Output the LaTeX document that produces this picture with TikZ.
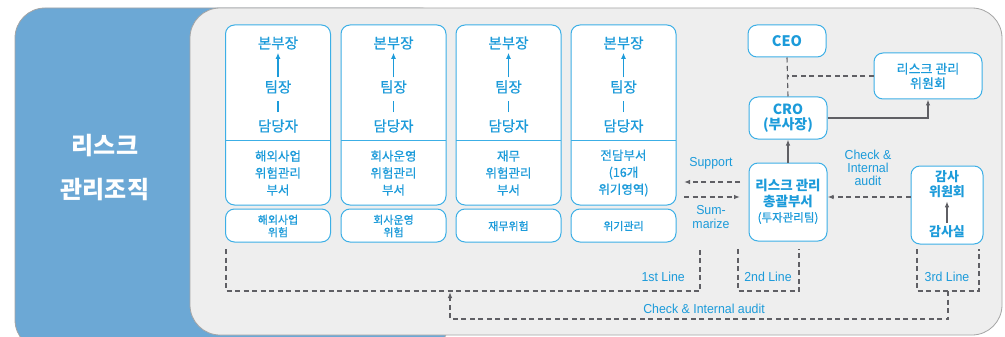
\documentclass[tikz,border=0pt]{standalone}
\usepackage{fontspec}
\setmainfont{Noto Sans CJK KR}
\newfontfamily\krm{Noto Sans CJK KR}[FakeBold=0.6]
\newfontfamily\lat[FakeStretch=0.95]{Liberation Sans}
\usetikzlibrary{arrows.meta}
\definecolor{tcol}{RGB}{28,155,218}
\definecolor{bcol}{RGB}{60,175,230}
\definecolor{gcol}{RGB}{95,95,100}
\definecolor{pblue}{RGB}{108,168,213}
\definecolor{pgray}{RGB}{238,238,238}
\definecolor{pedge}{RGB}{165,165,165}
\newcommand{\mkcol}[5]{%
  \node[box, minimum width=105pt, minimum height=180pt] (#1box) at (#2,115) {};
  \draw[bcol, line width=1pt] (#2-52.5,140) -- (#2+52.5,140);
  \node[kt, font=\krm\fontsize{14.5}{16}\selectfont] (#1a) at (#2,43) {본부장};
  \node[kt, font=\krm\fontsize{14.5}{16}\selectfont] (#1b) at (#2,87) {팀장};
  \node[kt, font=\krm\fontsize{14.5}{16}\selectfont] (#1c) at (#2,126) {담당자};
  \draw[tcol, line width=1.2pt, -{Latex[length=6pt,width=5pt]}, shorten <=2pt, shorten >=2pt] (#1b) -- (#1a);
  \draw[tcol, line width=1.1pt, shorten <=6pt, shorten >=6pt] (#1c) -- (#1b);
  \node[kt, font=\krm\fontsize{12.5}{17}\selectfont] (#1d) at (#2,173) {#3};
  \node[box, minimum width=105pt, minimum height=33pt] (#1s) at (#2,225.5) {};
  \node[kt, font=\krm\fontsize{11}{12.5}\selectfont] (#1t) at (#2,#5) {#4};
}
\begin{document}
\begin{tikzpicture}[x=1pt,y=-1pt,
  kt/.style={text=tcol, inner sep=1pt, align=center},
  box/.style={draw=bcol, line width=1pt, rounded corners=9pt, fill=white},
  gl/.style={draw=gcol, line width=1.1pt, dash pattern=on 5pt off 3.5pt},
  sl/.style={draw=gcol, line width=1.1pt},
  tip/.style={-{Latex[length=6pt,width=4.5pt]}},
  lt/.style={text=tcol, inner sep=1pt, align=center, font=\lat\fontsize{13}{13}\selectfont},
]
\useasboundingbox (0,0) rectangle (1005,337);
\filldraw[fill=pblue, draw=pedge, line width=0.8pt, rounded corners=30pt] (15,8) rectangle (450,350);
\filldraw[fill=pgray, draw=pedge, line width=0.8pt, rounded corners=30pt] (190,8) rectangle (1002,335);

\node[text=white, inner sep=0pt, font=\fontsize{24}{28}\selectfont\bfseries] (t1) at (105,146) {리스크};
\node[text=white, inner sep=0pt, font=\fontsize{24}{28}\selectfont\bfseries] (t2) at (105,190) {관리조직};

\mkcol{c1}{278}{해외사업\\위험관리\\부서}{해외사업\\위험}{226}
\mkcol{c2}{393.5}{회사운영\\위험관리\\부서}{회사운영\\위험}{226}
\mkcol{c3}{508.5}{재무\\위험관리\\부서}{재무위험}{226}
\mkcol{c4}{623.5}{전담부서\\(16개\\위기영역)}{위기관리}{226}

% right side
\node[box, minimum width=78pt, minimum height=32pt, kt, font=\fontsize{14.5}{16}\selectfont\bfseries] (ceo) at (787,41) {CEO};
\node[box, minimum width=108pt, minimum height=46pt, kt, font=\krm\fontsize{13}{14.5}\selectfont] (com) at (928,76) {리스크 관리\\위원회};
\node[box, minimum width=78pt, minimum height=42pt, kt, font=\fontsize{14}{15}\selectfont\bfseries] (cro) at (788,118) {CRO\\(부사장)};
\node[box, minimum width=78pt, minimum height=78pt] (tot) at (788,202) {};
\node[kt, font=\fontsize{13.5}{15.5}\selectfont\bfseries] (tott) at (788,193.5) {리스크 관리\\총괄부서};
\node[kt, font=\krm\fontsize{11.5}{13}\selectfont] (totb) at (788,218) {(투자관리팀)};
\node[box, minimum width=72pt, minimum height=78pt] (aud) at (947,205) {};
\node[kt, font=\fontsize{13}{15}\selectfont\bfseries] (auda) at (947,184.5) {감사\\위원회};
\node[kt, font=\fontsize{13}{15}\selectfont\bfseries] (audb) at (947,232) {감사실};
\draw[sl, tip, shorten <=2pt, shorten >=2pt] (audb) -- (auda);

\draw[gl] (ceo.south) -- (cro.north);
\draw[gl] (com.west) -- (ceo.south |- com.west);
\draw[sl, tip] (cro.east) -| (com.south);
\draw[sl, tip] (tot.north) -- (cro.south);

\draw[gl, tip] (aud.west |- 0,197) -- (tot.east |- 0,197);
\node[lt, font=\lat\fontsize{13}{13}\selectfont] (chk) at (868,168) {Check \&\\Internal\\audit};

\coordinate (sa) at (740,182);
\coordinate (sb) at (684,182);
\coordinate (ma) at (684,197);
\coordinate (mb) at (740,197);
\draw[gl, tip] (sa) -- (sb);
\draw[gl, tip] (ma) -- (mb);
\node[lt] (sup) at (711,163) {Support};
\node[lt, font=\lat\fontsize{13}{14}\selectfont] (sum) at (711,217) {Sum-\\marize};

% lines of defence
\coordinate (l1a) at (226,249);
\coordinate (l1b) at (700,249);
\draw[gl] (l1a) -- (226,291) -- (700,291) -- (l1b);
\coordinate (l2a) at (738,249);
\coordinate (l2b) at (799,249);
\draw[gl] (l2a) -- (738,291) -- (799,291) -- (l2b);
\coordinate (l3a) at (917,249);
\coordinate (l3b) at (979,249);
\draw[gl] (l3a) -- (917,291) -- (979,291) -- (l3b);
\coordinate (ca) at (948,291);
\coordinate (cb) at (450,292);
\draw[gl, tip] (ca) -- (948,319) -- (450,319) -- (cb);

\node[lt, anchor=east] (n1) at (686,277) {1st Line};
\node[lt] (n2) at (768,277) {2nd Line};
\node[lt] (n3) at (947,277) {3rd Line};
\node[lt] (n4) at (704,309) {Check \& Internal audit};
\end{tikzpicture}
\end{document}
